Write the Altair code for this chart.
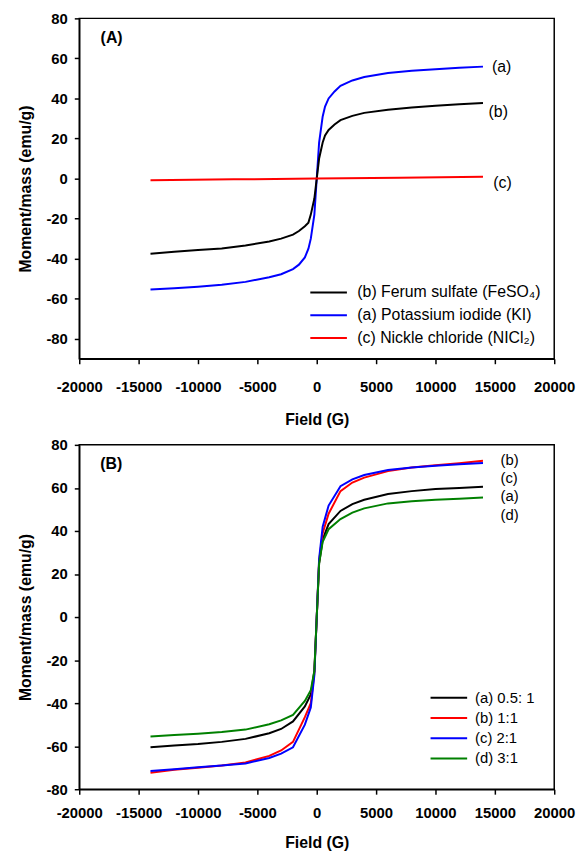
import altair as alt
import pandas as pd

# ---------------- Panel A data ----------------
A_names = ["(b) Ferum sulfate (FeSO\u2084)", "(a) Potassium iodide (KI)", "(c) Nickle chloride (NICl\u2082)"]
A_colors = ["#000000", "#0000ff", "#ff0000"]

A_field = [-14000, -12000, -10000, -8000, -6000, -4000, -3000, -2000, -1500, -1000, -700, -500, -200,
           0, 200, 500, 700, 1000, 1500, 2000, 3000, 4000, 6000, 8000, 10000, 12000, 14000]
A_feso4 = [-37.5, -36.6, -35.7, -34.9, -33.4, -31.4, -30.0, -28.0, -26.2, -23.8, -22.0, -18.0, -10.0,
           0.0, 10.0, 18.0, 21.5, 24.3, 27.0, 29.2, 31.3, 32.8, 34.4, 35.5, 36.4, 37.1, 37.7]
A_ki = [-55.4, -54.8, -54.0, -53.0, -51.6, -49.3, -47.8, -45.2, -43.0, -39.4, -35.0, -30.0, -18.0,
        0.0, 18.0, 31.0, 36.0, 40.0, 43.5, 46.3, 49.0, 50.7, 52.7, 53.8, 54.6, 55.3, 55.9]
A_field_nicl = [-14000, -7000, 0, 7000, 14000]
A_nicl = [-0.8, -0.4, 0.0, 0.45, 0.9]

A_lab_text = ["(a)", "(b)", "(c)"]
A_lab_x = [14750, 14470, 14860]
A_lab_y = [55.8, 33.3, -2.3]
A_panel_text = ["(A)"]
A_panel_x = [-18200]
A_panel_y = [70.2]

# ---------------- Panel B data ----------------
B_names = ["(a) 0.5: 1", "(b) 1:1", "(c) 2:1", "(d) 3:1"]
B_colors = ["#000000", "#ff0000", "#0000ff", "#008000"]
B_field = [-14000, -12000, -10000, -8000, -6000, -4000, -3000, -2000, -1000, -500, -200,
           0, 200, 500, 1000, 2000, 3000, 4000, 6000, 8000, 10000, 12000, 14000]
B_a = [-60.5, -59.7, -59.0, -58.0, -56.6, -54.0, -52.0, -48.5, -41.5, -36.0, -25.0,
       0.0, 25.0, 36.0, 43.2, 49.3, 52.5, 54.5, 57.2, 58.5, 59.5, 60.0, 60.5]
B_b = [-72.3, -71.0, -70.0, -69.0, -67.6, -64.5, -62.0, -58.0, -46.5, -40.0, -26.0,
       0.0, 26.0, 39.0, 48.0, 58.5, 62.5, 64.8, 67.8, 69.5, 70.5, 71.5, 72.6]
B_c = [-71.5, -70.7, -69.8, -69.0, -68.0, -65.5, -63.5, -60.5, -50.0, -42.0, -27.0,
       0.0, 27.0, 42.0, 51.8, 60.8, 64.0, 66.0, 68.3, 69.5, 70.3, 71.0, 71.6]
B_d = [-55.5, -54.8, -54.2, -53.4, -52.3, -49.8, -48.0, -45.5, -39.0, -34.0, -25.0,
       0.0, 25.0, 35.0, 40.8, 45.5, 48.5, 50.5, 52.8, 53.8, 54.5, 55.0, 55.5]

B_lab_text = ["(b)", "(c)", "(a)", "(d)"]
B_lab_x = [15475, 15475, 15475, 15475]
B_lab_y = [73.1, 64.5, 56.1, 47.6]
B_panel_text = ["(B)"]
B_panel_x = [-18225]
B_panel_y = [71.3]

x_ticks = [-20000, -15000, -10000, -5000, 0, 5000, 10000, 15000, 20000]
y_ticks = [-80, -60, -40, -20, 0, 20, 40, 60, 80]

# ---------------- build tables ----------------
rows = []
for f, v in zip(A_field, A_ki):
    rows.append({"field": f, "m": v, "s": A_names[1]})
for f, v in zip(A_field, A_feso4):
    rows.append({"field": f, "m": v, "s": A_names[0]})
for f, v in zip(A_field_nicl, A_nicl):
    rows.append({"field": f, "m": v, "s": A_names[2]})
dfA = pd.DataFrame(rows)

rows = []
for name, vals in zip(B_names, [B_a, B_b, B_c, B_d]):
    for f, v in zip(B_field, vals):
        rows.append({"field": f, "m": v, "r": name})
dfB = pd.DataFrame(rows)

dfA_lab = pd.DataFrame({"x": A_lab_x, "y": A_lab_y, "t": A_lab_text})
dfA_pan = pd.DataFrame({"x": A_panel_x, "y": A_panel_y, "t": A_panel_text})
dfB_lab = pd.DataFrame({"x": B_lab_x, "y": B_lab_y, "t": B_lab_text})
dfB_pan = pd.DataFrame({"x": B_panel_x, "y": B_panel_y, "t": B_panel_text})

FONT = "Liberation Sans"


def x_enc(field, lp, tp):
    return alt.X(field, type="quantitative",
                 scale=alt.Scale(domain=[-20000, 20000], nice=False, zero=False),
                 axis=alt.Axis(values=x_ticks, title="Field (G)", labelExpr="'' + datum.value",
                               labelOverlap=False, labelFlush=False, labelPadding=lp, titlePadding=tp))


def y_enc(field, dom):
    return alt.Y(field, type="quantitative",
                 scale=alt.Scale(domain=dom, nice=False, zero=False),
                 axis=alt.Axis(values=y_ticks, title="Moment/mass (emu/g)", labelOverlap=False,
                               labelFlush=False, labelExpr="'' + datum.value", labelPadding=7,
                               titlePadding=13))


# stroke-shaped legend symbol: a horizontal line three times the symbol's nominal width
SYM = "M-3,0L3,0"


def legend(x, y, fs, rp, lo):
    return alt.Legend(orient="none", legendX=x, legendY=y, title=None, symbolType=SYM,
                      symbolSize=152, symbolStrokeWidth=2, labelFontSize=fs, labelFont=FONT,
                      labelColor="black", labelOffset=lo, labelLimit=400, padding=0, rowPadding=rp)


linesA = alt.Chart(dfA).mark_line(strokeWidth=2).encode(
    x=x_enc("field", 16, 17), y=y_enc("m", [-90, 80]),
    color=alt.Color("s:N", scale=alt.Scale(domain=A_names, range=A_colors), sort=A_names,
                    legend=legend(244, 269, 16, 7, 21)),
)
labA = alt.Chart(dfA_lab).mark_text(align="left", baseline="middle", fontSize=16, font=FONT,
                                    color="black").encode(x="x:Q", y="y:Q", text="t:N")
panA = alt.Chart(dfA_pan).mark_text(align="left", baseline="middle", fontSize=16, font=FONT,
                                    fontWeight="bold", color="black").encode(x="x:Q", y="y:Q", text="t:N")
chartA = alt.layer(linesA, labA, panA).properties(width=480, height=344)

linesB = alt.Chart(dfB).mark_line(strokeWidth=2).encode(
    x=x_enc("field", 12, 14), y=y_enc("m", [-80, 80]),
    color=alt.Color("r:N", scale=alt.Scale(domain=B_names, range=B_colors), sort=B_names,
                    legend=legend(366, 248, 15, 4.5, 19)),
)
labB = alt.Chart(dfB_lab).mark_text(align="left", baseline="middle", fontSize=15, font=FONT,
                                    color="black").encode(x="x:Q", y="y:Q", text="t:N")
panB = alt.Chart(dfB_pan).mark_text(align="left", baseline="middle", fontSize=16, font=FONT,
                                    fontWeight="bold", color="black").encode(x="x:Q", y="y:Q", text="t:N")
chartB = alt.layer(linesB, labB, panB).properties(width=480, height=348)

chart = alt.vconcat(chartA, chartB, spacing=9).resolve_scale(color="independent").properties(
    padding={"left": 8, "top": -2, "right": 0, "bottom": 0}
).configure_view(stroke="black", strokeWidth=1.5).configure_axis(
    grid=False, domainColor="black", domainWidth=1.5, tickColor="black", tickWidth=1.5, tickSize=5,
    labelFont=FONT, labelFontSize=15, labelFontWeight="bold", labelColor="black",
    titleFont=FONT, titleFontSize=16, titleFontWeight="bold", titleColor="black"
)

chart.save("out.html", embed_options={"renderer": "svg", "actions": False})
